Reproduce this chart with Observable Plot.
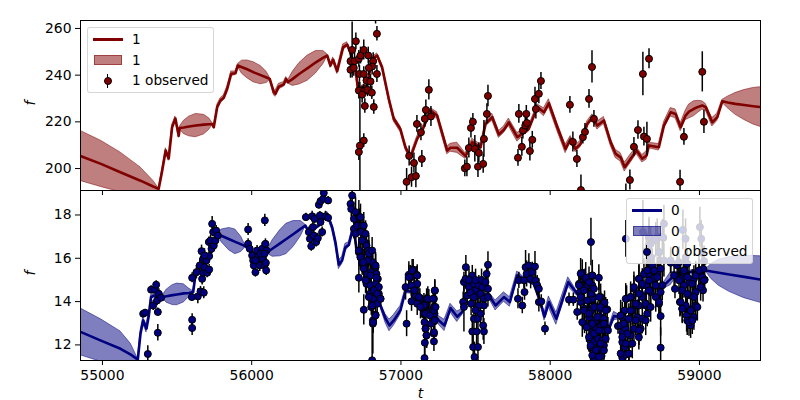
<!DOCTYPE html>
<html><head><meta charset="utf-8">
<script src="https://cdn.jsdelivr.net/npm/d3@7"></script>
<script src="https://cdn.jsdelivr.net/npm/@observablehq/plot@0.6"></script>
<style>
html,body{margin:0;padding:0;background:#fff;overflow:hidden;color:#000}
#wrap{position:relative;width:800px;height:400px;font-family:"DejaVu Sans",sans-serif;font-size:13.9px}
#wrap svg{position:absolute;left:0}
.lg{position:absolute;width:127px;height:66px;background:rgba(255,255,255,.8);border:1px solid rgba(204,204,204,.8);border-radius:3px;box-sizing:border-box;font-size:13.7px}
.lg span{position:absolute;left:44px;line-height:16px;white-space:nowrap}
.sw{position:absolute}
</style></head><body><div id="wrap"></div>
<script>
const xDomain=[54853,59409];
const xTicks=[55000,56000,57000,58000,59000];
const topTicks=[200,220,240,260];
const bottomTicks=[12,14,16,18];
const topDomain=[190.6,263.4];
const bottomDomain=[11.28,19.13];
const topColor="#800000", bottomColor="#000080";
const topName="1", bottomName="0";
// [t, f, sigma]
const topModel=[[54857,205.3,10.7],[54990,202,9.9],[55120,198.4,8.5],[55255,194.8,5.7],[55340,192.3,2.5],[55377,191.3,.3],[55400,199,.9],[55424,207.7,1],[55444,204.3,1],[55467,217.7,1],[55489,221.4,.9],[55511,214,.8],[55518,217.4,.5],[55545,217.6,2.8],[55580,218,4.2],[55626,218.4,5],[55680,218.8,4.2],[55715,219,2.5],[55735,219.1,.6],[55746,217.7,.7],[55769,226.3,.9],[55791,229.1,1],[55813,230.3,1],[55836,234.1,1],[55863,240.6,1],[55891,240.8,.8],[55907,244.1,.6],[55935,243.4,2.8],[55970,242.5,3.8],[56014,241.2,4.3],[56060,240,3.9],[56100,239,2.4],[56121,238.4,.6],[56148,232.7,1.2],[56159,232,1.3],[56182,235.1,1.2],[56215,236,1],[56231,238.4,.8],[56242,237,.6],[56275,238.4,3],[56320,240.6,4.6],[56375,243,5.4],[56430,245.5,4.8],[56480,247.5,2.8],[56506,248.4,.6],[56528,244.1,1],[56546,246.6,1],[56573,241.7,1.2],[56613,252,1.2],[56640,253.1,1],[56657,250.5,.8],[56696,242.7,.8],[56714,232.7,.8],[56740,234.8,.8],[56774,235.5,.8],[56807,247,.8],[56841,248.4,.9],[56874,243.4,1],[56919,229.8,1.2],[56952,221.3,1.2],[56997,216.8,1.2],[57031,209,1.1],[57064,204.8,1],[57109,212.7,1.1],[57143,216.3,1.1],[57198,224.8,1.1],[57243,222.7,1.4],[57310,207.7,1.6],[57332,208.9,1.7],[57377,208.9,2.2],[57433,205.3,1.2],[57478,211.3,1.5],[57534,209.1,1.1],[57567,219.1,1.1],[57612,222,1.5],[57656,214.6,1.5],[57690,216.6,1.4],[57723,219.8,1.6],[57780,213.4,1.9],[57824,215.5,1.2],[57857,217,1.2],[57914,226.3,1.2],[57958,224.1,1.7],[57991,228,1.7],[58048,217.7,1.7],[58103,208.4,1.8],[58137,212.7,1.2],[58170,208.4,1.4],[58204,210.6,1.4],[58249,219.1,1.2],[58283,222,1.2],[58316,218.4,1.7],[58360,220.6,1.5],[58405,211.3,1.5],[58438,206.3,1.8],[58472,204.8,1.8],[58499,200.6,1.9],[58539,204.2,1.8],[58579,207.7,1.5],[58617,204.2,1.6],[58646,205.6,1.8],[58661,209.9,1.2],[58728,209.1,1.4],[58762,218.4,1.4],[58807,224.1,1.8],[58840,223.4,1.9],[58874,217.7,1.7],[58907,222.7,2],[58930,224.4,3],[58963,225.6,3.2],[58990,226.4,2.6],[59019,227,1.8],[59042,226.3,1.4],[59086,219.8,1.8],[59120,222,1.6],[59153,228.8,.6],[59190,228.3,2.5],[59240,227.7,4.6],[59300,227.2,6.4],[59360,226.7,7.8],[59415,226.3,8.6]];
// [t, f, error]
const topObserved=[[56673,250.8,12],[56698,254.5,3.6],[56662,246,3.6],[56689,246,3.6],[56718,247,3.6],[56729,248.4,3.6],[56751,250.8,4.3],[56781,248.4,3.6],[56814,246,3.6],[56807,243.7,3.6],[56785,243.1,3.1],[56662,242.3,3.6],[56684,243.1,3.6],[56722,240.5,3.6],[56751,240.5,3.1],[56839,240.5,3.6],[56769,237.7,2.9],[56796,237.3,2.9],[56718,233.4,3.6],[56751,233,3.1],[56776,233.7,2.9],[56805,232.5,2.9],[56740,231.7,3.6],[56758,226.8,3.1],[56818,226.4,3.1],[56839,257.7,3.1],[56830,265.5,3.6],[56751,212,2.9],[56725,209.8,27],[56718,207.1,3.6],[57038,194.3,5.7],[57055,205.4,4.3],[57071,196.3,4.3],[57087,202.4,4.3],[57100,196.8,5],[57107,219.1,3.6],[57134,215.5,3.6],[57140,204.1,3.6],[57160,221.3,3.6],[57167,225.1,4.3],[57187,233.7,4.3],[57201,222.3,4.3],[57428,200.1,3.6],[57442,200.8,4.3],[57455,208.8,4.3],[57469,217.4,4.3],[57482,220,3.6],[57495,208.5,5.7],[57516,200.8,4.6],[57522,206.7,4.3],[57551,202,4],[57556,212.7,7.9],[57576,223.4,4.3],[57583,231.1,4.6],[57784,204.6,3.6],[57790,223.4,4],[57810,209.3,4],[57817,216.3,3.6],[57833,218.4,3.6],[57840,223.4,3.6],[57844,219.5,3.6],[57864,207.5,4.3],[57880,212.3,3.6],[57898,229.8,5],[57904,225.5,4.3],[57924,232,4.3],[57938,237.5,3.6],[58132,227.3,3.6],[58152,211.4,4.3],[58179,204.1,3.6],[58219,213.4,2.9],[58233,215.7,3.6],[58206,190.8,6.4],[58260,229.8,4],[58280,243.5,6.9],[58293,221.3,3.6],[58507,186.3,7.1],[58534,195.1,4.3],[58561,209.3,4],[58588,216.5,4],[58621,240.5,9.3],[58628,213.7,4],[58648,212.7,7.1],[58662,247,4.3],[58870,194.3,5],[58896,213.6,3.6],[59019,241.4,8.6],[59030,220,5]];
const bottomModel=[[54857,12.59,1.08],[54990,12.2,.98],[55121,11.82,.8],[55190,11.55,.5],[55237,11.32,.05],[55255,12.52,.12],[55273,13.13,.14],[55295,12.75,.18],[55311,13.36,.14],[55326,14.21,.1],[55348,14.28,.08],[55378,14.13,.08],[55400,14.21,.04],[55430,14.25,.3],[55470,14.3,.46],[55500,14.33,.5],[55545,14.38,.42],[55580,14.4,.2],[55608,14.44,.04],[55623,15.21,.08],[55668,15.44,.08],[55702,15.9,.08],[55735,16.36,.07],[55769,17.13,.04],[55800,17.03,.3],[55850,16.88,.52],[55890,16.76,.57],[55930,16.64,.35],[55958,16.55,.04],[55981,16.44,.07],[56014,16.21,.07],[56059,16.05,.07],[56104,16.28,.06],[56140,16.45,.38],[56190,16.69,.6],[56232,16.89,.7],[56280,17.12,.6],[56330,17.37,.35],[56360,17.51,.04],[56383,17.21,.08],[56416,17.36,.08],[56450,17.51,.08],[56472,17.75,.08],[56506,18.05,.1],[56539,17.44,.14],[56561,16.75,.17],[56584,15.7,.2],[56606,15.9,.17],[56628,16.51,.16],[56651,16.62,.12],[56680,17.44,.07],[56707,16.28,.07],[56729,15.67,.07],[56774,15.21,.07],[56830,14.28,.07],[56863,13.82,.1],[56897,13.21,.2],[56923,12.9,.27],[56952,13.13,.25],[56997,13.6,.2],[57031,14.5,.12],[57087,14.44,.08],[57131,14.13,.08],[57176,13.67,.08],[57221,13.44,.1],[57254,13.13,.2],[57292,12.9,.26],[57332,13.7,.2],[57377,13.3,.24],[57411,13.52,.14],[57444,14.44,.08],[57489,14.75,.08],[57545,14.28,.08],[57583,14.36,.12],[57634,13.82,.23],[57690,14.21,.22],[57730,13.98,.22],[57779,15.21,.18],[57824,15.05,.08],[57891,14.82,.08],[57935,13.98,.14],[57962,13.3,.18],[57991,13.98,.26],[58041,13.21,.28],[58070,13.82,.26],[58121,14.9,.22],[58181,14.36,.1],[58248,14.59,.07],[58293,13.98,.07],[58360,13.21,.07],[58394,12.75,.1],[58427,13.33,.2],[58472,13.28,.08],[58517,13.21,.07],[58561,13.52,.07],[58606,14.28,.07],[58673,14.59,.07],[58762,14.75,.14],[58807,15.05,.3],[58851,15.28,.1],[58918,15.33,.07],[58997,15.44,.07],[59042,15.44,.04],[59080,15.39,.35],[59130,15.33,.6],[59200,15.25,.8],[59300,15.14,.98],[59415,15.01,1.08]];
const bottomObserved=[[55304,11.58,.38],[55273,13.44,.15],[55286,13.49,.15],[55371,12.56,.38],[55371,13.52,.18],[55340,13.82,.23],[55366,14.05,.23],[55326,14.55,.18],[55351,14.55,.18],[55360,14.78,.18],[55378,14.36,.23],[55393,14.18,.18],[55601,13.16,.28],[55601,12.78,.34],[55599,14.21,.18],[55601,15.1,.23],[55639,14.24,.34],[55657,14.47,.23],[55679,14.41,.28],[55630,15.36,.31],[55668,15.05,.28],[55675,15.33,.31],[55652,15.67,.31],[55684,15.59,.28],[55702,15.33,.23],[55715,15.48,.23],[55675,15.98,.38],[55697,15.9,.23],[55715,16.1,.23],[55664,16.33,.28],[55684,16.13,.31],[55713,16.75,.23],[55724,16.82,.23],[55731,16.44,.23],[55746,16.59,.23],[55757,16.82,.23],[55735,17.59,.34],[55742,17.21,.23],[55762,17.28,.23],[55773,17.05,.23],
[55976,17.33,.28],[56088,17.75,.28],[55976,16.67,.23],[55987,16.44,.23],[56003,16.13,.28],[56010,15.9,.28],[56025,15.36,.23],[56014,15.67,.28],[56036,16.36,.23],[56041,16.05,.23],[56054,15.67,.28],[56070,16.44,.28],[56075,15.98,.28],[56086,15.67,.23],[56095,15.79,.23],[56097,15.44,.23],[56092,16.67,.23],[56099,16.36,.23],[56059,16.21,.23],[56025,15.9,.23],[56086,16.21,.23],
[56363,17.9,.18],[56383,17.21,.23],[56390,16.9,.23],[56399,16.56,.23],[56405,17.94,.23],[56410,17.44,.23],[56421,17.82,.23],[56416,17.05,.23],[56432,16.75,.23],[56443,16.93,.23],[56457,17.98,.18],[56461,17.67,.18],[56472,17.21,.23],[56450,18.47,.18],[56461,18.64,.18],[56479,18.74,.18],[56483,19.02,.18],[56512,18.67,.18],[56494,17.94,.23],[56512,17.87,.18],
[56662,18.51,.31],[56667,18.28,.38],[56673,18.9,.6],[56685,17.82,.77],[56696,18.13,.7],[56718,17.9,.77],[56685,17.36,.46],[56696,17.13,.7],[56707,17.51,.46],[56722,17.9,.38],[56740,17.51,.46],[56718,16.28,.6],[56734,17.21,.46],[56747,16.9,.46],[56756,16.75,.6],[56729,16.05,.6],[56769,16.59,.6],[56785,16.36,.7],[56740,15.82,.6],[56756,15.59,.6],[56785,15.98,.6],[56718,15.1,.7],[56812,15.82,.6],[56830,15.59,.6],[56774,15.28,.6],[56801,15.36,.6],[56836,15.28,.46],[56845,15.05,.46],[56769,14.82,.6],[56796,14.75,.54],[56830,14.82,.54],[56841,14.59,.46],[56792,14.36,.54],[56818,14.52,.54],[56852,14.36,.38],[56863,14.13,.31],[56814,14.13,.54],[56841,13.9,.46],[56801,13.75,.38],[56751,13.62,.7],[56830,13.39,.31],[56812,13.13,.6],[56812,12.98,1.4],[56807,11.29,1.54],
[56729,17.9,.6],[56751,17.51,.6],[56763,17.13,.6],[56740,16.82,.6],[56785,16.21,.6],[56807,16.36,.6],[56830,15.67,.6],[56774,15.9,.6],[56751,15.52,.6],[56796,15.21,.6],[56836,15.1,.55],[56852,14.67,.5],[56818,14.52,.6],[56763,14.98,.6],[56785,14.21,.6],[56841,14.36,.5],[56807,13.82,.55],[56830,13.36,.4],[56863,14.13,.35],[56814,13.05,.5],[56718,16.36,.6],[56729,16.05,.6],[56747,15.82,.6],
[57038,12.98,.6],[57031,14.67,.6],[57053,15.24,.6],[57064,15.13,.54],[57082,15.48,.46],[57105,15.24,.38],[57071,14.01,.46],[57087,14.67,.46],[57109,14.82,.46],[57098,14.28,.54],[57127,14.13,.46],[57109,13.9,.54],[57143,13.75,.54],[57172,14.13,.46],[57187,14.1,.46],[57165,13.85,.46],[57154,13.44,.54],[57158,13.05,.54],[57165,12.75,.54],[57172,12.44,.6],[57160,12.1,.85],[57158,11.39,.77],[57221,14.13,.46],[57227,14.5,.46],[57221,13.75,.46],[57209,13.44,.46],[57221,13.08,.46],[57203,12.98,.54],[57221,12.52,.54],[57221,12.16,.46],[57225,13.44,.38],
[57053,15.13,.55],[57075,15.44,.5],[57109,15.2,.5],[57069,14.75,.5],[57091,14.52,.55],[57120,14.21,.5],[57154,13.82,.55],[57180,14.13,.55],[57216,14.13,.5],[57227,14.52,.5],[57131,13.75,.55],[57165,13.44,.55],[57194,13.36,.55],[57221,13.59,.5],[57232,13.75,.5],[57165,12.75,.6],[57221,12.59,.55],[57171,12.44,.6],[57227,13.13,.5],
[57422,14.9,.46],[57417,13.98,.46],[57422,13.75,1.15],[57435,15.59,.54],[57433,15.05,.46],[57444,14.28,.46],[57455,14.67,.46],[57478,15.21,.46],[57489,14.82,.46],[57500,14.52,.54],[57511,14.28,.46],[57522,14.75,.46],[57533,14.36,.54],[57545,14.67,.46],[57556,14.13,.46],[57574,15.28,.46],[57583,15.7,.6],[57583,14.59,.54],[57583,14.21,.46],[57556,13.82,.46],[57522,13.82,.54],[57489,13.21,.6],[57516,13.21,.54],[57478,12.62,.77],[57507,12.62,.77],[57551,12.9,.69],[57556,12.62,.6],[57484,11.9,.77],[57516,11.9,.77],[57493,11.44,.69],[57533,13.44,.6],
[57456,15,.5],[57467,14.4,.5],[57500,15,.5],[57489,14.2,.55],[57540,15,.5],[57566,14.9,.5],[57500,13.6,.6],[57470,13.9,.55],
[57790,14.98,.38],[57784,14.13,.46],[57813,13.82,.38],[57824,14.98,.38],[57828,14.44,.38],[57835,15.59,.77],[57842,15.28,.6],[57857,15.67,.54],[57869,15.05,.46],[57880,15.36,.46],[57898,15.62,.69],[57902,14.98,.46],[57913,14.75,.46],[57924,14.59,.46],[57924,13.98,.46],[57940,14.01,.31],[57965,12.75,.31],
[58126,14.09,.31],[58155,14.09,.31],[58181,13.52,.38],[58193,14.82,.46],[58215,15.33,.6],[58233,15.05,.46],[58282,15.21,.46],[58326,15.1,.6],[58273,16.75,1.1],[58199,14.44,.54],[58226,14.59,.54],[58253,14.75,.54],[58282,14.75,.54],[58204,13.98,.6],[58230,13.67,.6],[58260,14.05,.6],[58282,14.13,.54],[58338,14.21,.6],[58230,12.98,.46],[58260,13.28,.6],[58275,13.59,.6],[58304,13.75,.6],[58333,13.67,.6],[58364,13.95,.54],[58382,13.64,.46],[58275,12.9,.69],[58304,13.13,.69],[58331,13.28,.6],[58360,13.21,.6],[58282,12.59,.77],[58309,12.75,.69],[58338,12.82,.6],[58364,12.67,.6],[58266,12.24,.6],[58293,12.13,.77],[58320,12.29,.69],[58349,12.21,.6],[58271,11.9,.6],[58304,11.82,.77],[58333,11.9,.69],[58360,11.98,.6],[58315,11.44,.85],[58344,11.49,.77],[58293,11.36,.77],[58382,12.75,.46],
[58204,15.29,.7],[58238,15.1,.7],[58193,14.75,.7],[58226,14.52,.7],[58260,14.9,.7],[58282,15.21,.7],[58204,14.21,.7],[58249,14.05,.7],[58276,14.36,.7],[58293,14.59,.7],[58226,13.59,.7],[58260,13.44,.7],[58293,13.75,.7],[58327,14.21,.7],[58215,13.05,.7],[58244,12.82,.7],[58282,12.98,.7],[58316,13.29,.7],[58338,13.75,.7],[58372,13.59,.6],[58260,12.36,.7],[58293,12.52,.7],[58327,12.67,.7],[58360,12.98,.7],[58387,12.67,.6],[58271,11.98,.7],[58305,11.75,.7],[58338,12.06,.7],[58372,12.29,.7],[58282,11.52,.7],[58327,11.44,.7],[58360,11.75,.7],
[58454,12.87,.38],[58507,16.9,.85],[58483,13.28,.69],[58472,12.9,.77],[58512,14.13,.6],[58499,13.59,.6],[58539,14.21,.6],[58550,13.59,.69],[58561,14.59,.6],[58527,13.21,.69],[58483,12.59,.69],[58505,12.75,.69],[58483,12.13,.69],[58499,11.9,.6],[58483,11.41,.6],[58527,11.59,.54],[58505,11.55,.54],[58539,12.44,.6],[58561,12.75,.69],[58594,12.36,.6],[58606,12.75,.6],[58584,13.28,.69],[58594,13.82,.6],[58617,14.21,.6],[58594,15.05,.6],[58617,14.75,.6],[58640,13.82,.6],[58650,13.44,.6],[58644,14.75,.77],[58661,15.21,.77],[58628,15.28,.69],[58621,17.21,1.46],[58644,16.33,.85],[58662,16.98,.92],[58673,16.67,.77],[58684,15.67,.77],[58695,14.98,.69],[58673,14.44,.69],[58717,16.98,.85],[58729,16.28,.85],[58717,15.36,.69],[58729,13.9,.6],[58740,13.33,.92],[58740,11.87,.92],[58758,16.95,.85],[58762,17.59,.85],[58762,15.9,.77],[58740,14.44,.69],[58706,14.75,.69],[58807,15.79,.46],[58836,14.59,.46],[58869,13.98,.69],[58885,13.67,.69],[58889,17.31,.92],[58907,16.9,.92],[58892,15.36,.69],[58918,15.75,.69],[58914,13.36,.77],[58918,13.13,.69],[58941,12.9,.6],[58963,13.28,.6],[58952,13.67,.6],[58975,13.82,.54],[58941,14.28,.6],[58930,14.9,.69],[58963,15.05,.6],[58997,15.36,.6],[59003,17.44,.92],[59012,16.9,.85],[59019,16.28,.77],[59026,15.51,.69],[59035,15.01,.6],[59024,14.52,.54],[58975,14.44,.6],[58896,14.75,.6],[58874,15.05,.6],[58851,15.67,.69],
[58472,13.36,.7],[58494,12.98,.7],[58517,12.52,.7],[58483,12.36,.7],[58506,12.06,.7],[58472,11.6,.7],[58528,11.6,.7],[58550,12.06,.7],[58506,14.13,.7],[58539,14.21,.7],[58561,14.67,.7],[58539,13.59,.7],[58573,13.9,.7],[58595,14.36,.7],[58595,15.05,.7],[58617,14.82,.7],[58573,13.13,.7],[58595,12.67,.7],[58617,13.21,.7],[58640,13.9,.7],[58662,14.52,.7],[58684,15.05,.7],[58651,15.44,.7],[58696,15.44,.7],[58718,15.13,.7],[58740,15.52,.7],[58640,13.13,.7],[58673,13.75,.7],[58707,14.21,.7],[58729,13.98,.7],[58662,14.98,.7],[58751,14.75,.7],
[58830,15.21,.65],[58863,14.98,.65],[58897,15.44,.65],[58919,15.13,.65],[58885,14.52,.65],[58919,14.36,.65],[58952,14.82,.65],[58975,15.21,.65],[58997,15.44,.65],[59019,15.13,.65],[59031,14.98,.6],[59008,14.67,.65],[58964,14.21,.65],[58986,13.75,.65],[58941,13.59,.65],[58908,13.82,.65],[58874,13.98,.65],[58885,13.67,.65],[58930,13.05,.65],[58952,13.13,.65],
[58662,16.98,.8],[58729,16.29,.8],[58707,16.85,.8],[58662,16.59,.8],[58751,16.98,.8],[58673,16.05,.8],[58807,15.9,.6],[58863,15.82,.7],[58908,16.05,.8],[59031,15.87,.7]];

const wrap=document.getElementById("wrap");
function panel(model,observed,color,yDomain,yTicks,opts){
  const p=Plot.plot({
    width:800,height:opts.height,marginLeft:80,marginRight:40,marginTop:opts.marginTop,marginBottom:opts.marginBottom,
    style:{background:"transparent",fontFamily:"DejaVu Sans",fontSize:"13.9px",color:"#000"},
    x:{domain:xDomain,label:null},
    y:{domain:yDomain,label:null},
    marks:[
      Plot.areaY(model,{x:d=>d[0],y1:d=>d[1]-d[2],y2:d=>d[1]+d[2],fill:color,fillOpacity:.5,stroke:color,strokeOpacity:.5,strokeWidth:1,clip:true}),
      Plot.line(model,{x:d=>d[0],y:d=>d[1],stroke:color,strokeWidth:2.6,strokeLinejoin:"round",clip:true}),
      Plot.ruleX(observed,{x:d=>d[0],y1:d=>d[1]-d[2],y2:d=>d[1]+d[2],stroke:"#000",strokeWidth:1.5,clip:true}),
      Plot.dot(observed,{x:d=>d[0],y:d=>d[1],r:3.5,fill:color,stroke:"#000",strokeWidth:1,clip:true}),
      Plot.frame({stroke:"#000",strokeWidth:1}),
      Plot.axisX({ticks:xTicks,tickSize:5,tickPadding:5,anchor:"bottom",label:null,tickFormat:opts.xLabels?(d=>String(d)):(()=>""),fontSize:13.9}),
      Plot.axisY({ticks:yTicks,tickSize:5,tickPadding:4,anchor:"left",label:null,tickFormat:d=>String(d),fontSize:13.9}),
      Plot.text(["f"],{frameAnchor:"left",rotate:-90,dx:-50,fontStyle:"italic",fontSize:13.9,fill:"#000"}),
      ...(opts.xLabels?[Plot.text(["t"],{frameAnchor:"bottom",dy:37,fontStyle:"italic",fontSize:13.9,fill:"#000"})]:[])
    ]
  });
  p.style.top=opts.top+"px";
  wrap.appendChild(p);
}
panel(topModel,topObserved,topColor,topDomain,topTicks,{top:0,height:196,marginTop:20,marginBottom:6,xLabels:false});
panel(bottomModel,bottomObserved,bottomColor,bottomDomain,bottomTicks,{top:190,height:210,marginTop:0,marginBottom:40,xLabels:true});

function legend(name,color,left,top){
  const box=document.createElement("div");
  box.className="lg";box.style.left=left+"px";box.style.top=top+"px";
  const add=(css)=>{const e=document.createElement("div");e.className="sw";e.style.cssText=css;box.appendChild(e);};
  const label=(t,y)=>{const s=document.createElement("span");s.textContent=t;s.style.top=y+"px";box.appendChild(s);};
  add(`left:5px;top:10px;width:30px;height:3px;background:${color}`);
  add(`left:6px;top:27px;width:28px;height:10px;box-sizing:border-box;background:${color}80;border:1px solid ${color}80`);
  add(`left:18.5px;top:46px;width:1.5px;height:14px;background:#000`);
  add(`left:15.5px;top:49px;width:8px;height:8px;box-sizing:border-box;border-radius:50%;background:${color};border:1px solid #000`);
  label(name,3);label(name,24);label(name+" observed",44);
  wrap.appendChild(box);
}
legend(topName,topColor,87,27);
legend(bottomName,bottomColor,626,198);
</script></body></html>
